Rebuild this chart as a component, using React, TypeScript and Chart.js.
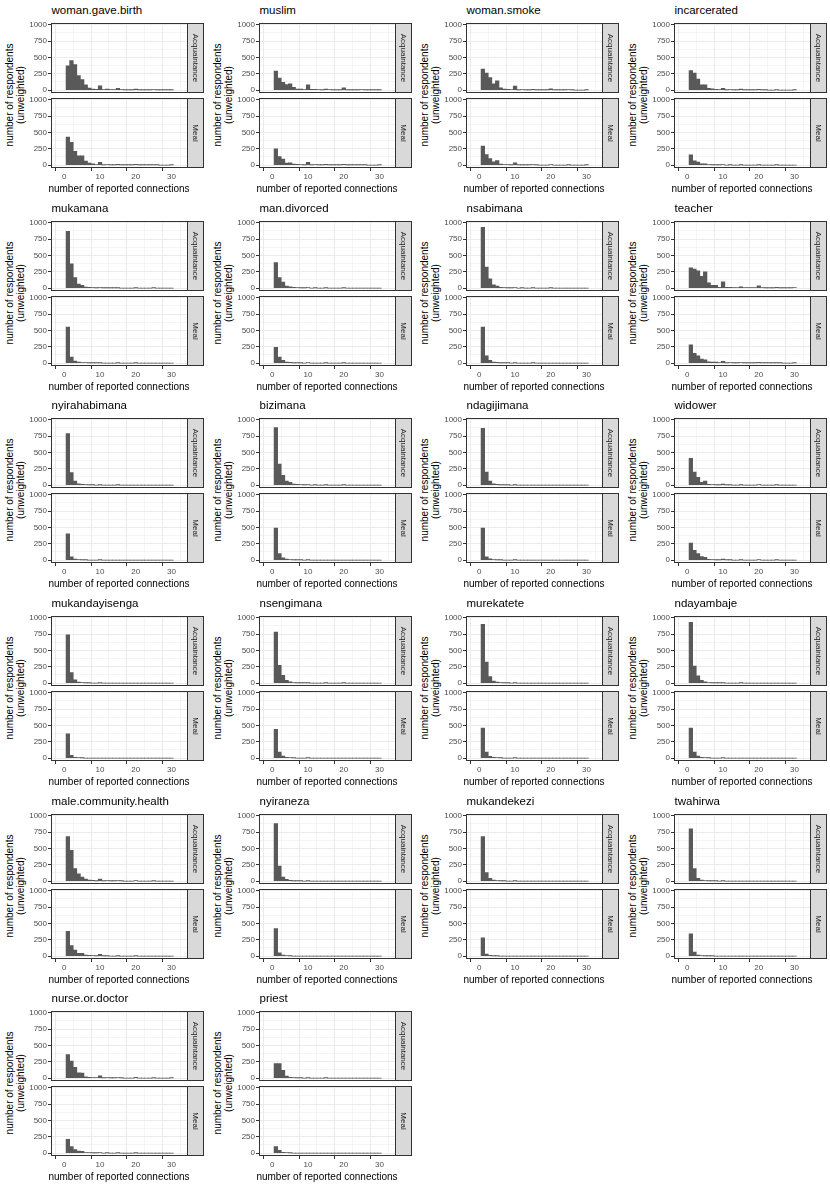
import React, { useEffect, useRef } from "react";
import { Chart, registerables } from "chart.js";
Chart.register(...registerables);

// ---------- data ----------
const BINS = [1, 2, 3, 4, 5, 6, 7, 8, 9, 10, 11, 12, 13, 14, 15, 16, 17, 18, 19, 20, 21, 22, 23, 24, 25, 26, 27, 28, 29, 30];
const X_TICKS = [0, 5, 10, 15, 20, 25, 30];
const X_LABELS = [0, 10, 20, 30];
const Y_TICKS = [0, 125, 250, 375, 500, 625, 750, 875, 1000];
const Y_LABELS = [0, 250, 500, 750, 1000];
const PANELS = ["Acquaintance", "Meal"];

const womanGaveBirthAcq = [370, 450, 390, 220, 160, 80, 30, 15, 10, 65, 5, 15, 5, 5, 25, 5, 3, 3, 2, 15, 2, 2, 2, 2, 5, 2, 1, 1, 1, 3];
const womanGaveBirthMeal = [430, 350, 210, 140, 140, 60, 30, 20, 5, 40, 3, 5, 2, 2, 10, 2, 1, 1, 1, 12, 1, 1, 1, 1, 3, 1, 0, 0, 0, 2];
const muslimAcq = [290, 185, 120, 85, 95, 40, 15, 15, 5, 80, 10, 10, 5, 3, 15, 5, 2, 3, 2, 35, 2, 2, 1, 1, 5, 1, 1, 1, 1, 3];
const muslimMeal = [250, 130, 90, 30, 35, 15, 10, 5, 3, 40, 2, 5, 2, 1, 10, 1, 1, 1, 1, 12, 1, 1, 1, 1, 3, 1, 0, 0, 0, 2];
const womanSmokeAcq = [320, 260, 190, 95, 140, 35, 15, 10, 5, 60, 3, 5, 2, 2, 10, 2, 1, 1, 1, 20, 1, 1, 1, 1, 5, 1, 0, 0, 0, 2];
const womanSmokeMeal = [290, 160, 100, 50, 70, 15, 8, 5, 2, 35, 1, 2, 1, 1, 5, 1, 0, 0, 0, 8, 0, 0, 0, 0, 2, 0, 0, 0, 0, 1];
const incarceratedAcq = [300, 260, 170, 80, 80, 25, 20, 10, 5, 25, 2, 5, 2, 1, 15, 1, 1, 1, 1, 10, 1, 1, 0, 0, 3, 0, 0, 0, 0, 1];
const incarceratedMeal = [155, 65, 45, 20, 20, 5, 3, 2, 1, 8, 0, 1, 0, 0, 3, 0, 0, 0, 0, 2, 0, 0, 0, 0, 1, 0, 0, 0, 0, 0];
const mukamanaAcq = [870, 370, 160, 60, 40, 15, 10, 5, 3, 8, 1, 2, 1, 1, 3, 0, 0, 0, 0, 3, 0, 0, 0, 0, 1, 0, 0, 0, 0, 0];
const mukamanaMeal = [550, 90, 30, 15, 8, 5, 2, 1, 1, 2, 0, 0, 0, 0, 1, 0, 0, 0, 0, 1, 0, 0, 0, 0, 0, 0, 0, 0, 0, 0];
const manDivorcedAcq = [390, 160, 90, 30, 20, 10, 5, 3, 1, 8, 0, 1, 0, 0, 2, 0, 0, 0, 0, 2, 0, 0, 0, 0, 0, 0, 0, 0, 0, 0];
const manDivorcedMeal = [240, 90, 40, 15, 10, 4, 2, 1, 0, 5, 0, 0, 0, 0, 1, 0, 0, 0, 0, 1, 0, 0, 0, 0, 0, 0, 0, 0, 0, 0];
const nsabimanaAcq = [930, 320, 140, 50, 30, 10, 5, 3, 1, 5, 0, 1, 0, 0, 2, 0, 0, 0, 0, 2, 0, 0, 0, 0, 0, 0, 0, 0, 0, 0];
const nsabimanaMeal = [550, 110, 40, 15, 10, 3, 2, 1, 0, 3, 0, 0, 0, 0, 1, 0, 0, 0, 0, 0, 0, 0, 0, 0, 0, 0, 0, 0, 0, 0];
const teacherAcq = [310, 290, 265, 180, 250, 80, 40, 40, 10, 95, 10, 10, 5, 5, 20, 5, 5, 5, 5, 35, 5, 3, 2, 2, 10, 3, 2, 2, 2, 5];
const teacherMeal = [280, 150, 110, 60, 50, 20, 15, 15, 5, 25, 3, 5, 2, 2, 8, 2, 1, 1, 1, 10, 1, 1, 1, 1, 3, 1, 0, 0, 0, 2];
const nyirahabimanaAcq = [790, 190, 60, 20, 10, 5, 2, 1, 0, 2, 0, 0, 0, 0, 1, 0, 0, 0, 0, 0, 0, 0, 0, 0, 0, 0, 0, 0, 0, 0];
const nyirahabimanaMeal = [400, 50, 15, 5, 2, 1, 0, 0, 0, 1, 0, 0, 0, 0, 0, 0, 0, 0, 0, 0, 0, 0, 0, 0, 0, 0, 0, 0, 0, 0];
const bizimanaAcq = [880, 320, 150, 60, 40, 15, 10, 5, 2, 5, 0, 1, 0, 0, 2, 0, 0, 0, 0, 1, 0, 0, 0, 0, 0, 0, 0, 0, 0, 0];
const bizimanaMeal = [490, 100, 35, 15, 8, 3, 2, 1, 0, 2, 0, 0, 0, 0, 0, 0, 0, 0, 0, 0, 0, 0, 0, 0, 0, 0, 0, 0, 0, 0];
const ndagijimanaAcq = [870, 200, 60, 20, 10, 4, 2, 1, 0, 2, 0, 0, 0, 0, 0, 0, 0, 0, 0, 0, 0, 0, 0, 0, 0, 0, 0, 0, 0, 0];
const ndagijimanaMeal = [490, 50, 20, 8, 3, 1, 0, 0, 0, 1, 0, 0, 0, 0, 0, 0, 0, 0, 0, 0, 0, 0, 0, 0, 0, 0, 0, 0, 0, 0];
const widowerAcq = [410, 200, 120, 40, 60, 10, 8, 3, 2, 15, 1, 2, 0, 0, 3, 0, 0, 0, 0, 5, 0, 0, 0, 0, 1, 0, 0, 0, 0, 0];
const widowerMeal = [260, 150, 100, 55, 40, 10, 5, 3, 1, 15, 1, 1, 0, 0, 3, 0, 0, 0, 0, 5, 0, 0, 0, 0, 1, 0, 0, 0, 0, 0];
const mukandayisengaAcq = [740, 160, 50, 15, 8, 3, 1, 0, 0, 1, 0, 0, 0, 0, 0, 0, 0, 0, 0, 0, 0, 0, 0, 0, 0, 0, 0, 0, 0, 0];
const mukandayisengaMeal = [370, 40, 10, 5, 2, 0, 0, 0, 0, 0, 0, 0, 0, 0, 0, 0, 0, 0, 0, 0, 0, 0, 0, 0, 0, 0, 0, 0, 0, 0];
const nsengimanaAcq = [780, 270, 120, 40, 20, 8, 4, 2, 1, 3, 0, 0, 0, 0, 1, 0, 0, 0, 0, 1, 0, 0, 0, 0, 0, 0, 0, 0, 0, 0];
const nsengimanaMeal = [440, 90, 30, 10, 5, 2, 0, 0, 0, 1, 0, 0, 0, 0, 0, 0, 0, 0, 0, 0, 0, 0, 0, 0, 0, 0, 0, 0, 0, 0];
const murekateteAcq = [900, 320, 100, 30, 15, 5, 3, 1, 0, 2, 0, 0, 0, 0, 0, 0, 0, 0, 0, 0, 0, 0, 0, 0, 0, 0, 0, 0, 0, 0];
const murekateteMeal = [460, 90, 25, 10, 5, 2, 0, 0, 0, 1, 0, 0, 0, 0, 0, 0, 0, 0, 0, 0, 0, 0, 0, 0, 0, 0, 0, 0, 0, 0];
const ndayambajeAcq = [930, 260, 110, 40, 20, 8, 3, 2, 1, 2, 0, 0, 0, 0, 1, 0, 0, 0, 0, 0, 0, 0, 0, 0, 0, 0, 0, 0, 0, 0];
const ndayambajeMeal = [460, 90, 30, 10, 5, 2, 0, 0, 0, 1, 0, 0, 0, 0, 0, 0, 0, 0, 0, 0, 0, 0, 0, 0, 0, 0, 0, 0, 0, 0];
const maleCommunityHealthAcq = [680, 470, 190, 110, 60, 30, 15, 10, 3, 30, 2, 5, 1, 1, 5, 1, 0, 0, 0, 5, 0, 0, 0, 0, 1, 0, 0, 0, 0, 0];
const maleCommunityHealthMeal = [380, 160, 90, 40, 40, 15, 10, 5, 2, 25, 1, 2, 0, 0, 3, 0, 0, 0, 0, 3, 0, 0, 0, 0, 0, 0, 0, 0, 0, 0];
const nyiranezaAcq = [880, 230, 60, 25, 10, 4, 2, 1, 0, 1, 0, 0, 0, 0, 0, 0, 0, 0, 0, 0, 0, 0, 0, 0, 0, 0, 0, 0, 0, 0];
const nyiranezaMeal = [420, 50, 15, 5, 2, 0, 0, 0, 0, 0, 0, 0, 0, 0, 0, 0, 0, 0, 0, 0, 0, 0, 0, 0, 0, 0, 0, 0, 0, 0];
const mukandekeziAcq = [680, 130, 40, 15, 5, 2, 1, 0, 0, 1, 0, 0, 0, 0, 0, 0, 0, 0, 0, 0, 0, 0, 0, 0, 0, 0, 0, 0, 0, 0];
const mukandekeziMeal = [280, 30, 10, 3, 1, 0, 0, 0, 0, 0, 0, 0, 0, 0, 0, 0, 0, 0, 0, 0, 0, 0, 0, 0, 0, 0, 0, 0, 0, 0];
const twahirwaAcq = [800, 190, 40, 15, 5, 3, 1, 1, 0, 2, 0, 0, 0, 0, 0, 0, 0, 0, 0, 0, 0, 0, 0, 0, 0, 0, 0, 0, 0, 0];
const twahirwaMeal = [340, 60, 15, 5, 2, 1, 2, 0, 0, 0, 0, 0, 0, 0, 0, 0, 0, 0, 0, 0, 0, 0, 0, 0, 0, 0, 0, 0, 0, 0];
const nurseOrDoctorAcq = [360, 260, 165, 80, 75, 20, 10, 8, 5, 35, 2, 5, 1, 1, 5, 1, 0, 0, 0, 10, 0, 0, 0, 0, 3, 0, 0, 0, 0, 1];
const nurseOrDoctorMeal = [210, 100, 55, 30, 25, 5, 5, 3, 1, 8, 0, 1, 0, 0, 2, 0, 0, 0, 0, 1, 0, 0, 0, 0, 0, 0, 0, 0, 0, 0];
const priestAcq = [220, 220, 120, 30, 10, 5, 3, 1, 0, 3, 0, 0, 0, 0, 2, 0, 0, 0, 0, 0, 0, 0, 0, 0, 0, 0, 0, 0, 0, 0];
const priestMeal = [100, 40, 10, 5, 2, 0, 0, 0, 0, 0, 0, 0, 0, 0, 0, 0, 0, 0, 0, 0, 0, 0, 0, 0, 0, 0, 0, 0, 0, 0];

const FACET_NAMES = [
  "woman.gave.birth", "muslim", "woman.smoke", "incarcerated",
  "mukamana", "man.divorced", "nsabimana", "teacher",
  "nyirahabimana", "bizimana", "ndagijimana", "widower",
  "mukandayisenga", "nsengimana", "murekatete", "ndayambaje",
  "male.community.health", "nyiraneza", "mukandekezi", "twahirwa",
  "nurse.or.doctor", "priest",
];
const ACQ_SERIES = [
  womanGaveBirthAcq, muslimAcq, womanSmokeAcq, incarceratedAcq,
  mukamanaAcq, manDivorcedAcq, nsabimanaAcq, teacherAcq,
  nyirahabimanaAcq, bizimanaAcq, ndagijimanaAcq, widowerAcq,
  mukandayisengaAcq, nsengimanaAcq, murekateteAcq, ndayambajeAcq,
  maleCommunityHealthAcq, nyiranezaAcq, mukandekeziAcq, twahirwaAcq,
  nurseOrDoctorAcq, priestAcq,
];
const MEAL_SERIES = [
  womanGaveBirthMeal, muslimMeal, womanSmokeMeal, incarceratedMeal,
  mukamanaMeal, manDivorcedMeal, nsabimanaMeal, teacherMeal,
  nyirahabimanaMeal, bizimanaMeal, ndagijimanaMeal, widowerMeal,
  mukandayisengaMeal, nsengimanaMeal, murekateteMeal, ndayambajeMeal,
  maleCommunityHealthMeal, nyiranezaMeal, mukandekeziMeal, twahirwaMeal,
  nurseOrDoctorMeal, priestMeal,
];

// ---------- layout ----------
const FONT = "'Liberation Sans', Arial, Helvetica, sans-serif";
const CELL_W = 207.5;
const CELL_H = 197.67;
const CANVAS_W = 207;
const Y_AXIS_W = 51;
const PAD_RIGHT = 20;
const STRIP_W = 15.5;
const TOP_CANVAS_Y = 15;
const TOP_CANVAS_H = 84;
const BOT_CANVAS_Y = 90;
const BOT_CANVAS_H = 91;
const X_AXIS_H = 13;

const panelPlugin = {
  id: "panelDeco",
  afterDraw(chart: any) {
    const { ctx, chartArea: a } = chart;
    const label = chart.options.plugins.panelDeco.label;
    const l = Math.round(a.left) + 0.5;
    const t = Math.round(a.top) + 0.5;
    const r = Math.round(a.right) + 0.5;
    const b = Math.round(a.bottom) - 0.5;
    ctx.save();
    ctx.strokeStyle = "#333333";
    ctx.lineWidth = 1;
    ctx.strokeRect(l, t, r - l, b - t);
    // strip
    const sr = Math.round(a.right + STRIP_W) + 0.5;
    ctx.fillStyle = "#D9D9D9";
    ctx.fillRect(r, t, sr - r, b - t);
    ctx.strokeRect(r, t, sr - r, b - t);
    ctx.translate((r + sr) / 2, (t + b) / 2);
    ctx.rotate(Math.PI / 2);
    ctx.fillStyle = "#1A1A1A";
    ctx.font = `8px ${FONT}`;
    ctx.textAlign = "center";
    ctx.textBaseline = "middle";
    ctx.fillText(label, 0, 0);
    ctx.restore();
  },
};

function Panel(props: { left: number; top: number; values: number[]; label: string; bottom: boolean }) {
  const { left, top, values, label, bottom } = props;
  const ref = useRef<HTMLCanvasElement>(null);
  const h = bottom ? BOT_CANVAS_H : TOP_CANVAS_H;
  useEffect(() => {
    const chart = new Chart(ref.current as HTMLCanvasElement, {
      type: "bar",
      data: {
        datasets: [
          {
            data: BINS.map((b, i) => ({ x: b, y: values[i] })),
            backgroundColor: "#595959",
            borderWidth: 0,
            barPercentage: 1,
            categoryPercentage: 1,
          } as any,
        ],
      },
      options: {
        animation: false,
        responsive: false,
        devicePixelRatio: 1,
        events: [],
        layout: { padding: { left: 0, right: PAD_RIGHT, top: 7.5, bottom: bottom ? 0 : 6 } },
        plugins: {
          legend: { display: false },
          tooltip: { enabled: false },
          panelDeco: { label },
        } as any,
        scales: {
          x: {
            type: "linear",
            min: -1,
            max: 31.6,
            afterBuildTicks: (s: any) => {
              s.ticks = X_TICKS.map((v) => ({ value: v }));
            },
            afterFit: (s: any) => {
              s.height = bottom ? X_AXIS_H : 0;
            },
            grid: {
              color: "#EBEBEB",
              lineWidth: (c: any) => (c.tick && X_LABELS.includes(c.tick.value) ? 1 : 0.5),
              tickColor: (c: any) => (c.tick && X_LABELS.includes(c.tick.value) ? "#333333" : "rgba(0,0,0,0)"),
              tickLength: 3,
              drawTicks: bottom,
            },
            border: { display: false },
            ticks: {
              display: bottom,
              autoSkip: false,
              maxRotation: 0,
              padding: 1,
              color: "#4D4D4D",
              font: { family: FONT, size: 8 },
              callback: (v: any) => (X_LABELS.includes(v) ? String(v) : ""),
            },
          },
          y: {
            type: "linear",
            min: -45,
            max: 1035,
            afterBuildTicks: (s: any) => {
              s.ticks = Y_TICKS.map((v) => ({ value: v }));
            },
            afterFit: (s: any) => {
              s.width = Y_AXIS_W;
            },
            grid: {
              color: "#EBEBEB",
              lineWidth: (c: any) => (c.tick && Y_LABELS.includes(c.tick.value) ? 1 : 0.5),
              tickColor: (c: any) => (c.tick && Y_LABELS.includes(c.tick.value) ? "#333333" : "rgba(0,0,0,0)"),
              tickLength: 3,
            },
            border: { display: false },
            ticks: {
              autoSkip: false,
              padding: 1,
              color: "#4D4D4D",
              font: { family: FONT, size: 8 },
              callback: (v: any) => (Y_LABELS.includes(v) ? String(v) : ""),
            },
          },
        },
      } as any,
      plugins: [panelPlugin],
    });
    return () => chart.destroy();
  }, []);
  return (
    <canvas
      ref={ref}
      width={CANVAS_W}
      height={h}
      style={{ position: "absolute", left, top, width: CANVAS_W, height: h }}
    />
  );
}

function Facet(props: { index: number }) {
  const { index } = props;
  const col = index % 4;
  const row = Math.floor(index / 4);
  const x = Math.round(col * CELL_W);
  const y = Math.round(row * CELL_H);
  const text: React.CSSProperties = { position: "absolute", fontFamily: FONT, color: "#000", whiteSpace: "nowrap" };
  return (
    <>
      <div style={{ ...text, left: x + 51.5, top: y + 3, fontSize: 11.5, lineHeight: "14px" }}>{FACET_NAMES[index]}</div>
      <div
        style={{
          ...text,
          left: x + 15,
          top: y + 95,
          fontSize: 10,
          lineHeight: "11.4px",
          textAlign: "center",
          transform: "translate(-50%, -50%) rotate(-90deg)",
        }}
      >
        number of respondents
        <br />
        (unweighted)
      </div>
      <Panel left={x} top={y + TOP_CANVAS_Y} values={ACQ_SERIES[index]} label={PANELS[0]} bottom={false} />
      <Panel left={x} top={y + BOT_CANVAS_Y} values={MEAL_SERIES[index]} label={PANELS[1]} bottom={true} />
      <div
        style={{
          ...text,
          left: x + 119,
          top: y + 189,
          fontSize: 10,
          lineHeight: "12px",
          transform: "translate(-50%, -50%)",
        }}
      >
        number of reported connections
      </div>
    </>
  );
}

export default function App() {
  return (
    <div style={{ position: "absolute", left: 0, top: 0, width: 830, height: 1186, background: "#fff", overflow: "hidden" }}>
      {FACET_NAMES.map((_, i) => (
        <Facet key={i} index={i} />
      ))}
    </div>
  );
}
